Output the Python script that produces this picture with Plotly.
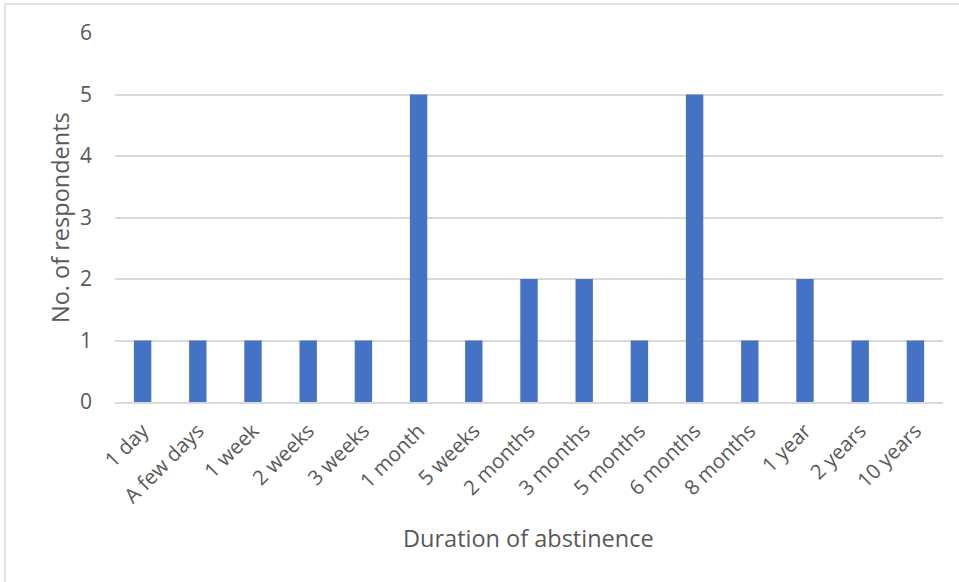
import plotly.graph_objects as go

durations = ["1 day", "A few days", "1 week", "2 weeks", "3 weeks", "1 month",
             "5 weeks", "2 months", "3 months", "5 months", "6 months",
             "8 months", "1 year", "2 years", "10 years"]
respondents = [1, 1, 1, 1, 1, 5, 1, 2, 2, 1, 5, 1, 2, 1, 1]

W, H = 959, 582
L, R, T, B = 115, 16, 33, 180
PW, PH = W - L - R, H - T - B
font = "Open Sans"
grey = "#595959"

fig = go.Figure(go.Bar(
    x=durations, y=respondents,
    marker=dict(color="#4472C4", line=dict(width=0)),
))

fig.update_layout(
    width=W, height=H,
    margin=dict(l=L, r=R, t=T, b=B),
    paper_bgcolor="white", plot_bgcolor="white",
    bargap=0.685,
    showlegend=False,
    font=dict(family=font, color=grey, size=21),
)

fig.update_xaxes(
    type="category",
    tickangle=-45,
    tickfont=dict(size=20.5, color=grey),
    showline=True, linecolor="#D9D9D9", linewidth=1.5,
    showgrid=False, ticks="",
    ticklabelstandoff=7,
)
fig.update_yaxes(
    range=[0, 6], dtick=1,
    tickfont=dict(size=21, color=grey),
    showgrid=True, gridcolor="#D9D9D9", gridwidth=1.5,
    zeroline=False, showline=False, ticks="",
    ticklabelstandoff=22,
)

# axis titles
fig.add_annotation(text="Duration of abstinence", xref="paper", yref="paper",
                   x=(528 - L) / PW, y=-(538 - T - PH) / PH, showarrow=False,
                   font=dict(size=23.5, color=grey), xanchor="center", yanchor="middle")
fig.add_annotation(text="No. of respondents", xref="paper", yref="paper",
                   x=-(L - 60) / PW, y=(H - B - 218) / PH, showarrow=False, textangle=-90,
                   font=dict(size=23.5, color=grey), xanchor="center", yanchor="middle")

# chart frame
fig.add_shape(type="rect", xref="paper", yref="paper",
              x0=-(L - 5) / PW, x1=1 + 40 / PW, y0=-200 / PH, y1=1 + 29 / PH,
              line=dict(color="#D9D9D9", width=1.5), fillcolor="rgba(0,0,0,0)", layer="below")

fig.write_html("out.html")
